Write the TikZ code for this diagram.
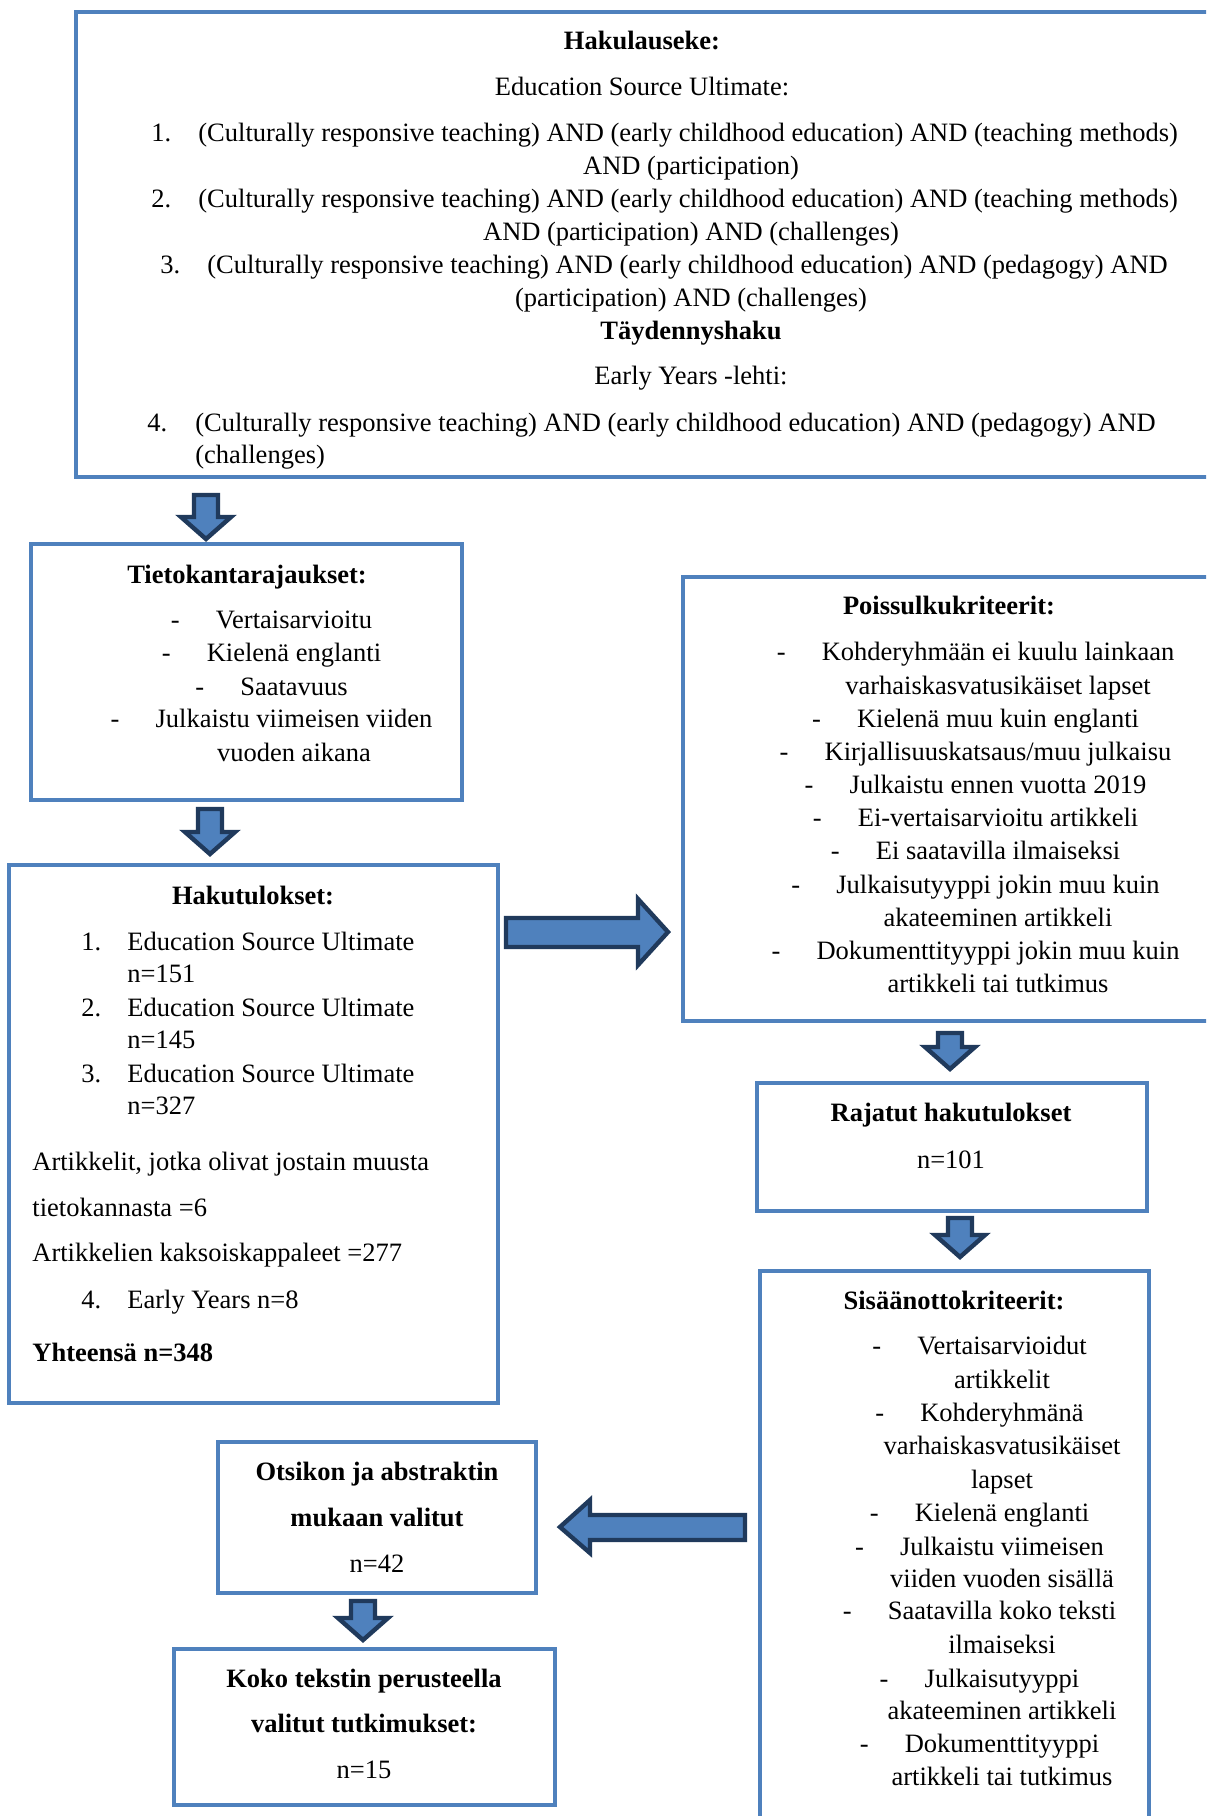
\documentclass[tikz,border=0pt]{standalone}
\usepackage{fontspec}
\setmainfont{Liberation Serif}
\usetikzlibrary{calc,fit}
\definecolor{boxblue}{HTML}{4F81BD}
\definecolor{navy}{HTML}{203A5C}
\tikzset{
  box/.style={draw=boxblue, line width=2.3pt, inner sep=0pt, fill=none},
  tbase/.style={inner sep=0pt, text height=0.75em, text depth=0.25em, font=\fontsize{13.25pt}{16pt}\selectfont},
  t/.style={tbase, yshift=-1.6pt},
  b/.style={t, font=\fontsize{13.25pt}{16pt}\selectfont\bfseries},
  barrow/.style={draw=navy, fill=boxblue, line width=2.2pt, line join=miter}
}
\newcommand\ditem[4]{\node[t] (#1) at (#2,#3) {#4};
  \node[tbase,anchor=west] (#1d) at ($(#1.west)+(-45,0)$) {-};}
\newcommand\dnarrow[3]{\draw[barrow] (#1-12,#2+2) -- (#1+12,#2+2) -- (#1+12,#3-25) -- (#1+25,#3-25) -- (#1,#3-3) -- (#1-25,#3-25) -- (#1-12,#3-25) -- cycle;}
\begin{document}
\begin{tikzpicture}[x=0.5pt,y=-0.5pt]
\clip (0,0) rectangle (1206,1816);
\fill[white] (0,0) rectangle (1206,1816);
% boxes
\node[box, fit={(76,12) (1230,477)}] (top) {};
\node[box, fit={(31,544) (462,800)}] (lim) {};
\node[box, fit={(9,865) (498,1403)}] (res) {};
\node[box, fit={(683,577) (1230,1021)}] (exc) {};
\node[box, fit={(757,1083) (1147,1211)}] (rest) {};
\node[box, fit={(760,1271) (1149,1840)}] (inc) {};
\node[box, fit={(218,1442) (536,1593)}] (abs) {};
\node[box, fit={(174,1649) (555,1805)}] (full) {};
% top box text
\node[b] (h1) at (642,41) {Hakulauseke:};
\node[t] (h2) at (642,87) {Education Source Ultimate:};
\node[t,anchor=west] (n1) at (151,133) {1.};
\node[t,anchor=west] (q1) at (198,133) {(Culturally responsive teaching) AND (early childhood education) AND (teaching methods)};
\node[t] (q1b) at (691,166) {AND (participation)};
\node[t,anchor=west] (n2) at (151,199) {2.};
\node[t,anchor=west] (q2) at (198,199) {(Culturally responsive teaching) AND (early childhood education) AND (teaching methods)};
\node[t] (q2b) at (691,232) {AND (participation) AND (challenges)};
\node[t,anchor=west] (n3) at (160,265) {3.};
\node[t,anchor=west] (q3) at (207,265) {(Culturally responsive teaching) AND (early childhood education) AND (pedagogy) AND};
\node[t] (q3b) at (691,298) {(participation) AND (challenges)};
\node[b] (h3) at (691,331) {Täydennyshaku};
\node[t] (h4) at (691,376) {Early Years -lehti:};
\node[t,anchor=west] (n4) at (147,423) {4.};
\node[t,anchor=west] (q4) at (195,423) {(Culturally responsive teaching) AND (early childhood education) AND (pedagogy) AND};
\node[t,anchor=west] (q4b) at (195,455) {(challenges)};
% limits box
\node[b] (t0) at (247,575) {Tietokantarajaukset:};
\ditem{t1}{294}{620}{Vertaisarvioitu}
\ditem{t2}{294}{653}{Kielenä englanti}
\ditem{t3}{294}{687}{Saatavuus}
\ditem{t4}{294}{719}{Julkaistu viimeisen viiden}
\node[t] (t4b) at (294,753) {vuoden aikana};
% results box
\node[b] (r0) at (253,896) {Hakutulokset:};
\node[t,anchor=west] (rn1) at (81,942) {1.};
\node[t,anchor=west] (r1) at (127,942) {Education Source Ultimate};
\node[t,anchor=west] (r1b) at (127,974) {n=151};
\node[t,anchor=west] (rn2) at (81,1008) {2.};
\node[t,anchor=west] (r2) at (127,1008) {Education Source Ultimate};
\node[t,anchor=west] (r2b) at (127,1040) {n=145};
\node[t,anchor=west] (rn3) at (81,1074) {3.};
\node[t,anchor=west] (r3) at (127,1074) {Education Source Ultimate};
\node[t,anchor=west] (r3b) at (127,1106) {n=327};
\node[t,anchor=west] (r4) at (32,1162) {Artikkelit, jotka olivat jostain muusta};
\node[t,anchor=west] (r5) at (32,1208) {tietokannasta =6};
\node[t,anchor=west] (r6) at (32,1253) {Artikkelien kaksoiskappaleet =277};
\node[t,anchor=west] (rn4) at (81,1300) {4.};
\node[t,anchor=west] (r7) at (127,1300) {Early Years n=8};
\node[b,anchor=west] (r8) at (32,1353) {Yhteensä n=348};
% exclusion box
\node[b] (p0) at (949,606) {Poissulkukriteerit:};
\ditem{p1}{998}{652}{Kohderyhmään ei kuulu lainkaan}
\node[t] (p1b) at (998,686) {varhaiskasvatusikäiset lapset};
\ditem{p2}{998}{719}{Kielenä muu kuin englanti}
\ditem{p3}{998}{752}{Kirjallisuuskatsaus/muu julkaisu}
\ditem{p4}{998}{785}{Julkaistu ennen vuotta 2019}
\ditem{p5}{998}{818}{Ei-vertaisarvioitu artikkeli}
\ditem{p6}{998}{851}{Ei saatavilla ilmaiseksi}
\ditem{p7}{998}{885}{Julkaisutyyppi jokin muu kuin}
\node[t] (p7b) at (998,918) {akateeminen artikkeli};
\ditem{p8}{998}{951}{Dokumenttityyppi jokin muu kuin}
\node[t] (p8b) at (998,984) {artikkeli tai tutkimus};
% restricted results
\node[b] (k0) at (951,1113) {Rajatut hakutulokset};
\node[t] (k1) at (951,1160) {n=101};
% inclusion box
\node[b] (s0) at (954,1301) {Sisäänottokriteerit:};
\ditem{s1}{1002}{1346}{Vertaisarvioidut}
\node[t] (s1b) at (1002,1380) {artikkelit};
\ditem{s2}{1002}{1413}{Kohderyhmänä}
\node[t] (s2b) at (1002,1446) {varhaiskasvatusikäiset};
\node[t] (s2c) at (1002,1480) {lapset};
\ditem{s3}{1002}{1513}{Kielenä englanti}
\ditem{s4}{1002}{1547}{Julkaistu viimeisen}
\node[t] (s4b) at (1002,1579) {viiden vuoden sisällä};
\ditem{s5}{1002}{1611}{Saatavilla koko teksti}
\node[t] (s5b) at (1002,1645) {ilmaiseksi};
\ditem{s6}{1002}{1679}{Julkaisutyyppi}
\node[t] (s6b) at (1002,1711) {akateeminen artikkeli};
\ditem{s7}{1002}{1744}{Dokumenttityyppi}
\node[t] (s7b) at (1002,1777) {artikkeli tai tutkimus};
% abstract box
\node[b] (a0) at (377,1472) {Otsikon ja abstraktin};
\node[b] (a1) at (377,1518) {mukaan valitut};
\node[t] (a2) at (377,1564) {n=42};
% full text box
\node[b] (f0) at (364,1679) {Koko tekstin perusteella};
\node[b] (f1) at (364,1724) {valitut tutkimukset:};
\node[t] (f2) at (364,1770) {n=15};
% block arrows
\dnarrow{206}{493}{542}
\dnarrow{210}{807}{857}
\dnarrow{950}{1031}{1072}
\dnarrow{960}{1216}{1260}
\dnarrow{363}{1599}{1643}
\draw[barrow] (506,918) -- (638,918) -- (638,899) -- (668,932) -- (638,965) -- (638,947) -- (506,947) -- cycle;
\draw[barrow] (745,1515) -- (590,1515) -- (590,1500) -- (560,1527) -- (590,1553) -- (590,1540) -- (745,1540) -- cycle;
\end{tikzpicture}
\end{document}
